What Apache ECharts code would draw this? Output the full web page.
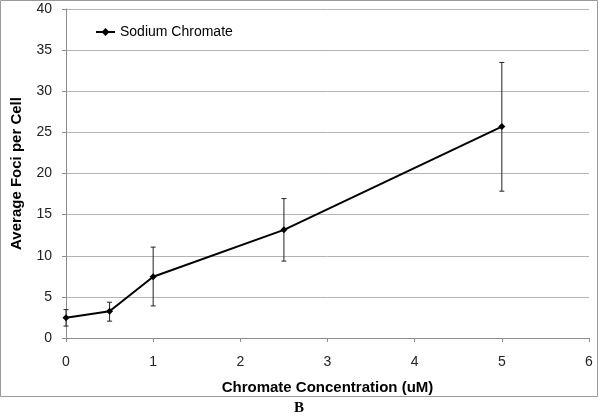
<!DOCTYPE html>
<html>
<head>
<meta charset="utf-8">
<script src="https://cdn.jsdelivr.net/npm/echarts@6/dist/echarts.min.js"></script>
<style>html,body{margin:0;padding:0;background:#fff}#c{width:600px;height:416px}</style>
</head>
<body>
<div id="c"></div>
<script>
var seriesName = 'Sodium Chromate';
var concentrations = [0, 0.5, 1, 2.5, 5];
var meanFoci = [2.45, 3.25, 7.45, 13.15, 25.7];
var errLow = [1.45, 2.05, 3.9, 9.35, 17.85];
var errHigh = [3.45, 4.35, 11.05, 16.95, 33.5];
var xTicks = [0, 1, 2, 3, 4, 5, 6];
var yTicks = [0, 5, 10, 15, 20, 25, 30, 35, 40];

var font = 'Liberation Sans, Arial, sans-serif';
var chart = echarts.init(document.getElementById('c'), null, {renderer: 'canvas'});

var lineData = concentrations.map(function (x, i) { return [x, meanFoci[i]]; });
var errData = concentrations.map(function (x, i) { return [x, errLow[i], errHigh[i]]; });

chart.setOption({
  animation: false,
  backgroundColor: '#fff',
  graphic: [
    {type: 'rect', shape: {x: 0.5, y: 0.5, width: 597, height: 396}, style: {fill: 'none', stroke: '#9a9a9a', lineWidth: 1}, z: -1},
    {type: 'text', left: 294, top: 401, style: {text: 'B', font: 'bold 15px "Liberation Serif", "DejaVu Serif", serif', fill: '#000'}}
  ],
  grid: {left: 66, right: 11, top: 9, bottom: 78},
  legend: {
    left: 90, top: 20,
    itemWidth: 19, itemHeight: 10, itemGap: 4,
    textStyle: {fontFamily: font, fontSize: 14, color: '#000'},
    data: [seriesName]
  },
  xAxis: {
    type: 'value', min: 0, max: 6, interval: 1,
    name: 'Chromate Concentration (uM)', nameLocation: 'middle', nameGap: 42,
    nameTextStyle: {fontFamily: font, fontSize: 15, fontWeight: 'bold', color: '#000'},
    axisLine: {show: true, lineStyle: {color: '#8c8c8c', width: 1}},
    axisTick: {show: true, length: 4, lineStyle: {color: '#8c8c8c'}},
    axisLabel: {fontFamily: font, fontSize: 14, color: '#222', margin: 17,
      formatter: function (v) { return xTicks.indexOf(v) >= 0 ? String(v) : ''; }},
    splitLine: {show: false}
  },
  yAxis: {
    type: 'value', min: 0, max: 40, interval: 5,
    name: 'Average Foci per Cell', nameLocation: 'middle', nameGap: 42,
    nameTextStyle: {fontFamily: font, fontSize: 15, fontWeight: 'bold', color: '#000'},
    axisLine: {show: true, lineStyle: {color: '#8c8c8c', width: 1}},
    axisTick: {show: true, length: 4, inside: false, lineStyle: {color: '#8c8c8c'}},
    axisLabel: {fontFamily: font, fontSize: 14, color: '#222', margin: 14,
      formatter: function (v) { return yTicks.indexOf(v) >= 0 ? String(v) : ''; }},
    splitLine: {show: true, lineStyle: {color: '#b4b4b4', width: 1}}
  },
  series: [
    {
      name: seriesName, type: 'line', data: lineData,
      symbol: 'diamond', symbolSize: 7,
      lineStyle: {color: '#000', width: 2},
      itemStyle: {color: '#000'},
      z: 3
    },
    {
      name: 'err', type: 'custom', data: errData, z: 2,
      renderItem: function (params, api) {
        var x = api.value(0);
        var lo = api.coord([x, api.value(1)]);
        var hi = api.coord([x, api.value(2)]);
        var c = 2.5;
        var st = {stroke: '#222', lineWidth: 1};
        return {type: 'group', children: [
          {type: 'line', shape: {x1: lo[0], y1: lo[1], x2: hi[0], y2: hi[1]}, style: st},
          {type: 'line', shape: {x1: lo[0] - c, y1: lo[1], x2: lo[0] + c, y2: lo[1]}, style: st},
          {type: 'line', shape: {x1: hi[0] - c, y1: hi[1], x2: hi[0] + c, y2: hi[1]}, style: st}
        ]};
      }
    }
  ]
});
</script>
</body>
</html>
